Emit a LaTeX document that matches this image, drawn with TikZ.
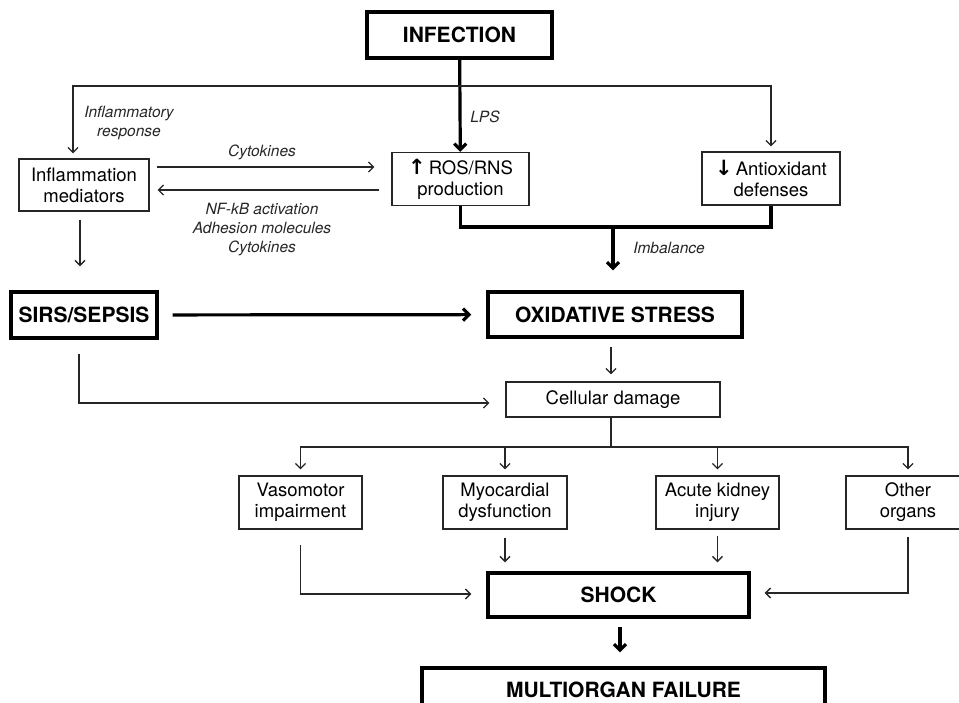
\documentclass[tikz,border=0pt]{standalone}
\usepackage{fontspec}
\setmainfont{TeX Gyre Heros}
\newfontfamily\arrowfont{DejaVu Sans}
\usetikzlibrary{arrows.meta}
\usetikzlibrary{positioning}

\newcommand{\uparr}{{\arrowfont\bfseries\fontsize{21}{20}\selectfont ↑}}
\newcommand{\downarr}{{\arrowfont\bfseries\fontsize{21}{20}\selectfont ↓}}

\begin{document}
\begin{tikzpicture}[x=1pt,y=-1pt,
  box/.style={draw=black!85,line width=1.3pt,align=center,inner sep=0pt,
    minimum width=124,minimum height=53,font=\fontsize{18.5}{21}\selectfont},
  bigbox/.style={draw=black,line width=3.4pt,align=center,inner sep=0pt,
    minimum height=45,font=\fontsize{21}{24}\selectfont\bfseries},
  lbl/.style={align=center,inner sep=0pt,text=black!85,
    font=\fontsize{15.5}{19}\selectfont\itshape},
  arr/.style={draw=black!85,line width=1.3pt,-{Straight Barb[length=5pt,width=10pt]}},
  fatarr/.style={draw=black,line width=3.2pt,-{Straight Barb[length=6pt,width=12pt]}}]

  \useasboundingbox (0,0) rectangle (959,702);
  \clip (0,0) rectangle (959,702);

  % top row
  \node[bigbox,minimum width=185,minimum height=46] (infection) at (459.5,35) {INFECTION};
  \node[box,minimum width=130,minimum height=52] (inflam) at (84,185) {Inflammation\\mediators};
  \node[box,minimum width=137] (ros) at (460.5,179) {\uparr\,ROS/RNS\\production};
  \node[box,minimum width=138] (antiox) at (771,178.5) {\downarr\,Antioxidant\\defenses};

  % middle
  \node[bigbox,minimum width=146,minimum height=46] (sirs) at (84,315) {SIRS/SEPSIS};
  \node[bigbox,minimum width=254] (oxstress) at (615,314.5) {OXIDATIVE STRESS};
  \node[box,minimum width=214,minimum height=35] (cell) at (613,399.5) {Cellular damage};

  % organs
  \node[box,minimum width=123] (vaso) at (300.5,502.5) {Vasomotor\\impairment};
  \node[box] (myo) at (505,502.5) {Myocardial\\dysfunction};
  \node[box,minimum width=123] (kidney) at (717.5,502.5) {Acute kidney\\injury};
  \node[box] (other) at (908,502.5) {Other\\organs};

  % bottom
  \node[bigbox,minimum width=261,minimum height=44] (shock) at (618.5,595) {SHOCK};
  \node[bigbox,minimum width=403,minimum height=44] (mof) at (623.5,690) {MULTIORGAN FAILURE};

  % labels
  \node[lbl] (inflamlbl) at (129,123) {Inflammatory\\response};
  \node[lbl] (lpslbl) at (485,117) {LPS};
  \node[lbl] (cytolbl) at (262,152) {Cytokines};
  \node[lbl] (nfkblbl) at (262,230) {NF-kB activation\\Adhesion molecules\\Cytokines};
  \node[lbl] (imblbl) at (669,248) {Imbalance};

  % infection
  \coordinate (fork) at (460,86);
  \draw[fatarr] (infection) -- (ros);
  \draw[arr,shorten >=5pt] (fork) -| ([xshift=-11pt]inflam.north);
  \draw[arr,shorten >=5pt] (fork) -| (antiox.north);

  % cross talk
  \draw[arr,shorten <=7pt,shorten >=17pt] ([yshift=18pt]inflam.east) -- ([yshift=18pt]inflam.east -| ros.west);
  \draw[arr,shorten <=12pt,shorten >=8pt] ([yshift=-5pt]inflam.east -| ros.west) -- ([yshift=-5pt]inflam.east);

  % imbalance
  \coordinate (join) at (613,227);
  \draw[line width=3.2pt] (ros.south) |- (join) -| (antiox.south);
  \draw[fatarr,shorten >=20pt] (join) -- (join |- oxstress.north);

  % sepsis
  \draw[arr,shorten <=8pt,shorten >=24pt] ([xshift=-4pt]inflam.south) -- ([xshift=-4pt]inflam.south |- sirs.north);
  \draw[fatarr,shorten <=14pt,shorten >=15pt] (sirs) -- (oxstress);
  \draw[arr,shorten <=8pt,shorten >=7pt] ([xshift=-2pt]cell.north |- oxstress.south) -- ([xshift=-2pt]cell.north);
  \draw[arr,shorten >=16pt] ([xshift=-5pt,yshift=-14pt]sirs.south) |- ([yshift=-3.5pt]cell.west);

  % damage
  \coordinate (branch) at (611,447);
  \draw[draw=black!85,line width=1.3pt] (branch |- cell.south) -- (branch);
  \foreach \n in {vaso,myo,kidney,other}
    \draw[arr,shorten >=6pt] (branch) -| (\n.north);

  % shock
  \draw[arr,shorten >=15pt] ([yshift=-15pt]vaso.south) |- ([yshift=1pt]shock.west);
  \draw[arr,shorten <=8pt,shorten >=9pt] (myo.south) -- (myo.south |- shock.north);
  \draw[arr,shorten <=6pt,shorten >=9pt] (kidney.south) -- (kidney.south |- shock.north);
  \draw[arr,shorten >=14pt] ([yshift=-7pt]other.south) |- ([yshift=2pt]shock.east);
  \draw[fatarr,shorten <=8pt,shorten >=14pt] ([xshift=1.5pt]shock.south) -- ([xshift=1.5pt]shock.south |- mof.north);

\end{tikzpicture}
\end{document}
